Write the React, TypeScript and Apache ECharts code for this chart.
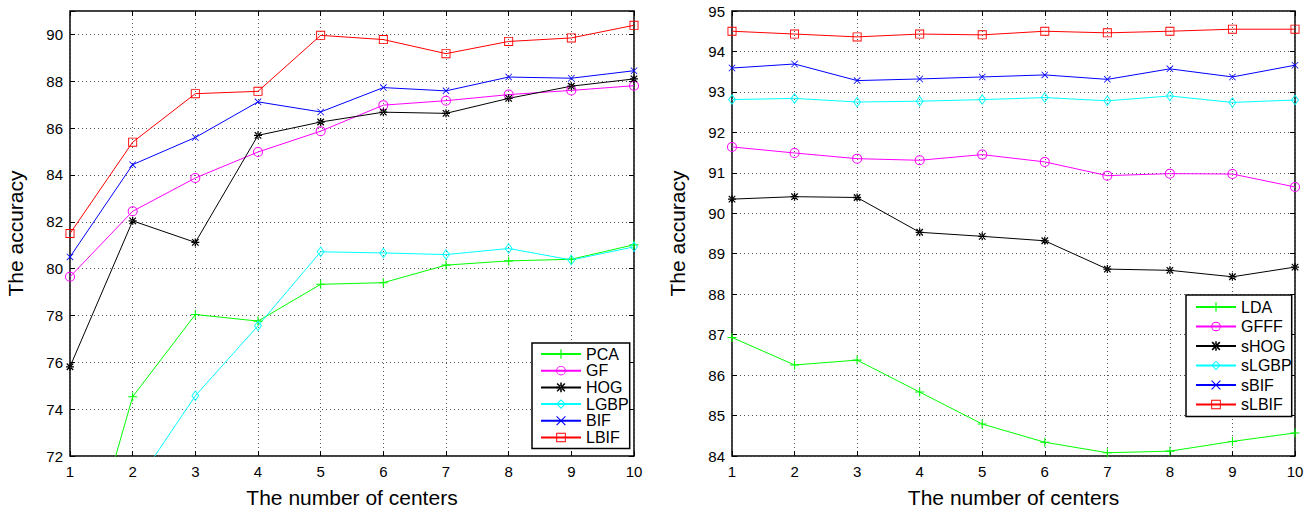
import React, { useEffect, useRef } from "react";
import * as echarts from "echarts";

const centers = [1, 2, 3, 4, 5, 6, 7, 8, 9, 10];

// Left panel
const leftNames = ["PCA", "GF", "HOG", "LGBP", "BIF", "LBIF"];
const pca = [65.2, 74.53, 78.04, 77.76, 79.33, 79.4, 80.15, 80.33, 80.4, 81.02];
const gf = [79.65, 82.45, 83.87, 84.98, 85.87, 86.98, 87.17, 87.43, 87.61, 87.81];
const hog = [75.81, 82.04, 81.12, 85.69, 86.26, 86.68, 86.63, 87.27, 87.79, 88.1];
const lgbp = [66.0, 70.6, 74.57, 77.56, 80.72, 80.67, 80.6, 80.86, 80.37, 80.93];
const bif = [80.5, 84.44, 85.6, 87.12, 86.69, 87.73, 87.59, 88.18, 88.13, 88.45];
const lbif = [81.5, 85.4, 87.47, 87.57, 89.96, 89.78, 89.18, 89.7, 89.85, 90.39];

// Right panel
const rightNames = ["LDA", "GFFF", "sHOG", "sLGBP", "sBIF", "sLBIF"];
const lda = [86.93, 86.25, 86.37, 85.58, 84.79, 84.34, 84.08, 84.12, 84.36, 84.57];
const gfff = [91.64, 91.49, 91.35, 91.31, 91.45, 91.27, 90.93, 90.98, 90.97, 90.65];
const shog = [90.35, 90.41, 90.39, 89.53, 89.43, 89.32, 88.62, 88.59, 88.43, 88.67];
const slgbp = [92.81, 92.84, 92.75, 92.77, 92.81, 92.86, 92.78, 92.9, 92.74, 92.8];
const sbif = [93.59, 93.69, 93.28, 93.32, 93.37, 93.42, 93.31, 93.57, 93.37, 93.66];
const slbif = [94.5, 94.43, 94.36, 94.43, 94.41, 94.5, 94.46, 94.5, 94.55, 94.55];

const colors = ["#00ff00", "#ff00ff", "#000000", "#00ffff", "#0000ff", "#ff0000"];

const SYM_PLUS = "path://M4.4,0H5.6V4.4H10V5.6H5.6V10H4.4V5.6H0V4.4H4.4Z";
const SYM_CIRCLE =
  "path://M0,5A5,5 0 1,1 10,5A5,5 0 1,1 0,5Z M1,5A4,4 0 1,0 9,5A4,4 0 1,0 1,5Z";
const SYM_STAR =
  "path://M4.2,0H5.8V4.2H10V5.8H5.8V10H4.2V5.8H0V4.2H4.2Z M1.5,0.4L0.4,1.5L8.5,9.6L9.6,8.5Z M8.5,0.4L9.6,1.5L1.5,9.6L0.4,8.5Z";
const SYM_DIAMOND = "path://M5,0L10,5L5,10L0,5Z M5,1.4L1.4,5L5,8.6L8.6,5Z";
const SYM_X = "path://M0,0.8L0.8,0L10,9.2L9.2,10Z M9.2,0L10,0.8L0.8,10L0,9.2Z";
const SYM_SQUARE = "path://M0,0H10V10H0Z M1,1V9H9V1Z";

const symbols = [SYM_PLUS, SYM_CIRCLE, SYM_STAR, SYM_DIAMOND, SYM_X, SYM_SQUARE];
const symbolSizes: any[] = [9, 10, 8, [8, 11], 7, 9];

const FONT = "'Liberation Sans', Arial, Helvetica, sans-serif";

function makeSeries(names: string[], data: number[][], xi: number, yi: number) {
  return names.map((name, i) => ({
    name,
    type: "line",
    xAxisIndex: xi,
    yAxisIndex: yi,
    data: centers.map((c, k) => [c, data[i][k]]),
    symbol: symbols[i],
    symbolSize: symbolSizes[i],
    showAllSymbol: true,
    clip: true,
    lineStyle: { width: 1, color: colors[i] },
    itemStyle: { color: colors[i], borderWidth: 0 },
    emphasis: { disabled: true },
    z: 3,
  }));
}

function bottomX(gridIndex: number) {
  return {
    type: "value",
    gridIndex,
    min: 1,
    max: 10,
    interval: 1,
    position: "bottom",
    name: "The number of centers",
    nameLocation: "middle",
    nameGap: 31,
    nameTextStyle: { fontSize: 21, color: "#000", fontFamily: FONT },
    axisLine: { show: false },
    axisTick: { show: true, inside: true, length: 5, lineStyle: { color: "#000" } },
    axisLabel: { fontSize: 15, color: "#000", fontFamily: FONT, margin: 8 },
    splitLine: { show: true, lineStyle: { type: [1, 3], color: "#555", width: 1 } },
  };
}

function topX(gridIndex: number) {
  return {
    type: "value",
    gridIndex,
    min: 1,
    max: 10,
    interval: 1,
    position: "top",
    axisLine: { show: false },
    axisTick: { show: true, inside: true, length: 5, lineStyle: { color: "#000" } },
    axisLabel: { show: false },
    splitLine: { show: false },
  };
}

function leftY(gridIndex: number, min: number, max: number, interval: number) {
  return {
    type: "value",
    gridIndex,
    min,
    max,
    interval,
    position: "left",
    name: "The accuracy",
    nameLocation: "middle",
    nameGap: 44,
    nameTextStyle: { fontSize: 21, color: "#000", fontFamily: FONT },
    axisLine: { show: false },
    axisTick: { show: true, inside: true, length: 5, lineStyle: { color: "#000" } },
    axisLabel: {
      fontSize: 15,
      color: "#000",
      fontFamily: FONT,
      margin: 7,
      formatter: (v: number) => ((v - min) % interval === 0 ? String(v) : ""),
    },
    splitLine: { show: true, lineStyle: { type: [1, 3], color: "#555", width: 1 } },
  };
}

function rightY(gridIndex: number, min: number, max: number, interval: number) {
  return {
    type: "value",
    gridIndex,
    min,
    max,
    interval,
    position: "right",
    axisLine: { show: false },
    axisTick: { show: true, inside: true, length: 5, lineStyle: { color: "#000" } },
    axisLabel: { show: false },
    splitLine: { show: false },
  };
}

function legend(data: string[], left: number, top: number, gap: number, padding: number[]) {
  return {
    data,
    orient: "vertical",
    left,
    top,
    itemWidth: 40,
    itemHeight: 12,
    itemGap: gap,
    padding,
    selectedMode: false,
    backgroundColor: "#fff",
    borderColor: "#000",
    borderWidth: 1.5,
    borderRadius: 0,
    textStyle: { fontSize: 16, color: "#000", fontFamily: FONT, lineHeight: 16 },
  };
}

export default function App() {
  const ref = useRef<HTMLDivElement>(null);
  useEffect(() => {
    if (!ref.current) return;
    const chart = echarts.init(ref.current, null, { renderer: "svg" });
    const option: any = {
      animation: false,
      backgroundColor: "#fff",
      grid: [
        { left: 70, top: 11, width: 564, height: 445, show: true, borderColor: "#000", borderWidth: 1.5, backgroundColor: "transparent" },
        { left: 732, top: 11, width: 563, height: 445, show: true, borderColor: "#000", borderWidth: 1.5, backgroundColor: "transparent" },
      ],
      xAxis: [bottomX(0), topX(0), bottomX(1), topX(1)],
      yAxis: [leftY(0, 72, 91, 2), rightY(0, 72, 91, 2), leftY(1, 84, 95, 1), rightY(1, 84, 95, 1)],
      legend: [
        legend(leftNames, 532, 343, 0.7, [3, 1, 3, 8]),
        legend(rightNames, 1186, 295, 3.5, [4, 0, 4, 9]),
      ],
      series: [
        ...makeSeries(leftNames, [pca, gf, hog, lgbp, bif, lbif], 0, 0),
        ...makeSeries(rightNames, [lda, gfff, shog, slgbp, sbif, slbif], 2, 2),
      ],
    };
    chart.setOption(option);
    return () => chart.dispose();
  }, []);
  return (
    <div
      ref={ref}
      style={{ position: "absolute", left: 0, top: 0, width: 1314, height: 514, background: "#fff" }}
    />
  );
}
